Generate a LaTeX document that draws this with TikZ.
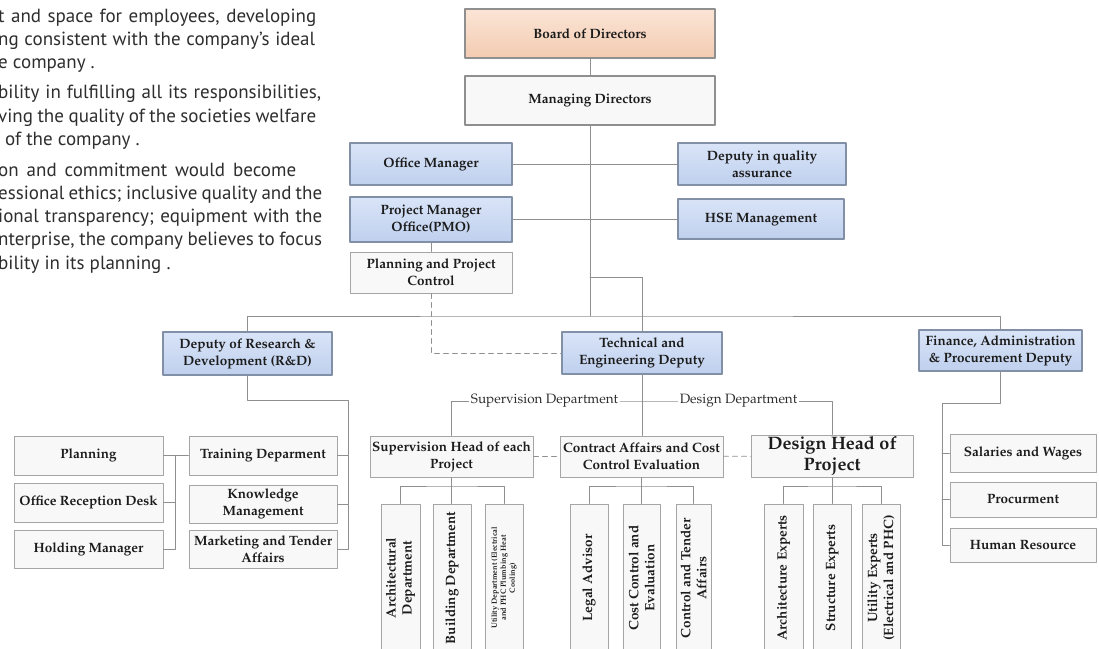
\documentclass[tikz,border=0pt]{standalone}
\usepackage[T1]{fontenc}
\usepackage{mathpazo}
\usepackage{xcolor}
\usepackage{tikz}
\usetikzlibrary{shadows}
\definecolor{dce6f7}{rgb}{0.851,0.894,0.969}
\definecolor{c6d4ee}{rgb}{0.749,0.816,0.933}
\definecolor{bordbl}{rgb}{0.510,0.565,0.655}
\definecolor{fbe5d6}{rgb}{0.984,0.898,0.839}
\definecolor{f3cbb1}{rgb}{0.953,0.796,0.694}
\definecolor{f7f8f7}{rgb}{0.969,0.973,0.969}
\definecolor{a5a5a5}{rgb}{0.647,0.647,0.647}
\definecolor{linegr}{rgb}{0.561,0.561,0.561}
\definecolor{textbk}{rgb}{0.110,0.110,0.110}
\definecolor{textgr}{rgb}{0.180,0.180,0.180}
\font\gillfont="PT Sans" at 19pt
\newcommand{\boxfont}{\fontsize{13.5}{17}\selectfont\bfseries}
\tikzstyle{every node}=[text=textbk]
\tikzstyle{box}=[draw=a5a5a5,line width=1pt,fill=f7f8f7,align=center,inner sep=1pt,font=\boxfont,drop shadow={shadow xshift=1pt,shadow yshift=-1pt,opacity=0.25}]
\tikzstyle{bluebox}=[box,draw=bordbl,line width=1.8pt,top color=dce6f7,bottom color=c6d4ee]
\tikzstyle{boardbox}=[box,draw=linegr,line width=1.6pt,top color=fbe5d6,bottom color=f3cbb1]
\tikzstyle{vbox}=[box,rotate=90,inner sep=0pt,minimum width=148,font=\fontsize{13.5}{16}\selectfont\bfseries]
\tikzstyle{conn}=[draw=linegr,line width=0.9pt]
\tikzstyle{dconn}=[conn,dash pattern=on 5pt off 4pt]
\tikzstyle{lbl}=[fill=white,inner sep=1.5pt,font=\fontsize{13.5}{16}\selectfont,text=textgr]
\tikzstyle{para}=[anchor=base west,inner sep=0pt,font=\gillfont,text=textgr]

\begin{document}
\begin{tikzpicture}[line cap=round,line join=round,x=1pt,y=-1pt]
    \useasboundingbox (0,0) rectangle (1099,648);
    \clip (0,0) rectangle (1099,648);
    \fill[white] (0,0) rectangle (1099,648);
    \node[para] (t1) at (-2,22) {\makebox[318pt][s]{t and space for employees, developing}};
    \node[para] (t2) at (-2,45) {\makebox[317pt][s]{ng consistent with the company’s ideal}};
    \node[para] (t3) at (-2,68) {e company .};
    \node[para] (t4) at (-2,98) {\makebox[323pt][s]{bility in fulfilling all its responsibilities,}};
    \node[para] (t5) at (-2,122) {\makebox[318pt][s]{ving the quality of the societies welfare}};
    \node[para] (t6) at (5,145) {of the company .};
    \node[para] (t7) at (-2,176) {\makebox[298pt][s]{on and commitment would become}};
    \node[para] (t8) at (-2,199) {\makebox[324pt][s]{essional ethics; inclusive quality and the}};
    \node[para] (t9) at (-2,222) {\makebox[324pt][s]{ional transparency; equipment with the}};
    \node[para] (t10) at (-2,245) {\makebox[324pt][s]{nterprise, the company believes to focus}};
    \node[para] (t11) at (-2,269) {bility in its planning .};

    \node[boardbox,minimum width=250,minimum height=49] (board) at (590,33.5) {Board of Directors};
    \node[box,draw=linegr,line width=1.6pt,minimum width=250,minimum height=49] (md) at (590,100.5) {Managing Directors};
    \node[bluebox,minimum width=162,minimum height=42] (office) at (431,164) {Office Manager};
    \node[bluebox,minimum width=168,minimum height=42] (quality) at (762,164) {Deputy in quality\\assurance};
    \node[bluebox,minimum width=162,minimum height=45] (pmo) at (431,219.5) {Project Manager\\Office(PMO)};
    \node[bluebox,minimum width=166,minimum height=40] (hse) at (761,219) {HSE Management};
    \node[box,minimum width=162,minimum height=41] (ppc) at (431,272.5) {Planning and Project\\Control};
    \node[bluebox,minimum width=169,minimum height=43] (rd) at (247.5,353.5) {Deputy of Research \&\\Development (R\&D)};
    \node[bluebox,minimum width=160,minimum height=42] (tech) at (642,353) {Technical and\\Engineering Deputy};
    \node[bluebox,minimum width=163,minimum height=41] (fin) at (1000.5,350.5) {Finance, Administration\\\& Procurement Deputy};

    \node[box,minimum width=149,minimum height=39] (planning) at (88.5,455.5) {Planning};
    \node[box,minimum width=149,minimum height=39] (reception) at (88.5,502.5) {Office Reception Desk};
    \node[box,minimum width=149,minimum height=38] (holding) at (88.5,549) {Holding Manager};
    \node[box,minimum width=148,minimum height=39] (training) at (263,455.5) {Training Deparment};
    \node[box,minimum width=148,minimum height=38] (knowledge) at (263,504) {Knowledge\\Management};
    \node[box,minimum width=148,minimum height=38] (marketing) at (263,549) {Marketing and Tender\\Affairs};

    \node[box,minimum width=163,minimum height=41] (suphead) at (451.5,456.5) {Supervision Head of each\\Project};
    \node[box,minimum width=163,minimum height=41] (contract) at (641.5,456.5) {Contract Affairs and Cost\\Control Evaluation};
    \node[box,minimum width=162,minimum height=42,font=\fontsize{18}{21}\selectfont\bfseries] (deshead) at (832,456) {Design Head of\\Project};

    \node[box,minimum width=146,minimum height=38] (salaries) at (1023,453) {Salaries and Wages};
    \node[box,minimum width=146,minimum height=35] (procure) at (1023,499.5) {Procurment};
    \node[box,minimum width=146,minimum height=34] (hr) at (1023,545) {Human Resource};

    \node[vbox,minimum height=39] (arch) at (400.5,578) {Architectural\\Department};
    \node[vbox,minimum height=38] (building) at (452,578) {Building Department};
    \node[vbox,minimum height=38,font=\fontsize{7.5}{9}\selectfont\bfseries] (utility) at (504,578) {Utility Department (Electrical\\and PHC Plumbing Heat\\Cooling)};
    \node[vbox,minimum height=38] (legal) at (589,578) {Legal Advisor};
    \node[vbox,minimum height=37] (costctrl) at (641.5,578) {Cost Control and\\Evaluation};
    \node[vbox,minimum height=35] (ctrltender) at (693.5,578) {Control and Tender\\Affairs};
    \node[vbox,minimum height=39] (archexp) at (783.5,578) {Architecture Experts};
    \node[vbox,minimum height=38] (structexp) at (832,578) {Structure Experts};
    \node[vbox,minimum height=38] (utilexp) at (881,578) {Utility Experts\\(Electrical and PHC)};

    \coordinate (bus) at (590,316);
    \coordinate (tknee) at (590,277);
    \coordinate (tsplit) at (642,401);
    \coordinate (sknee) at (451.5,486);
    \coordinate (cknee) at (641.5,486);
    \coordinate (dknee) at (832,486);
    \coordinate (rdknee) at (348,400);
    \coordinate (lknee) at (175,455.5);
    \coordinate (fknee) at (942,403);

    \draw[conn] (board) -- (md);
    \draw[conn] (md) -- (bus);
    \draw[conn] (office) -- (quality);
    \draw[conn] (pmo.east) -- (pmo.east -| hse.west);
    \draw[conn] (pmo) -- (ppc);
    \draw[conn] (tknee) -| (tech.north);
    \draw[conn] (rd.north) |- (bus) -| (fin.north);
    \draw[dconn] (ppc.south) |- (tech.west);

    \draw[conn] (tech.south) -- (tech.south |- contract.north);
    \draw[conn] (suphead.north) |- (tsplit) -| (deshead.north);
    \draw[dconn] (suphead) -- (contract);
    \draw[dconn] (contract) -- (deshead);
    \node[lbl] (supdept) at (544.5,401) {Supervision Department};
    \node[lbl] (desdept) at (738.5,401) {Design Department};

    \draw[conn] (suphead.south) -- (suphead.south |- building.east);
    \draw[conn] (arch.east) |- (sknee) -| (utility.east);
    \draw[conn] (contract.south) -- (contract.south |- costctrl.east);
    \draw[conn] (legal.east) |- (cknee) -| (ctrltender.east);
    \draw[conn] (deshead.south) -- (deshead.south |- structexp.east);
    \draw[conn] (archexp.east) |- (dknee) -| (utilexp.east);

    \draw[conn] (rd.south) |- (rdknee) |- (marketing.east);
    \draw[conn] (training.east) -- (training.east -| rdknee);
    \draw[conn] (knowledge.east) -- (knowledge.east -| rdknee);
    \draw[conn] (training.west) -- (planning.east);
    \draw[conn] (lknee) |- (holding.east);
    \draw[conn] (reception.east) -- (reception.east -| lknee);

    \draw[conn] (fin.south) |- (fknee) |- (hr.west);
    \draw[conn] (salaries.west) -- (salaries.west -| fknee);
    \draw[conn] (procure.west) -- (procure.west -| fknee);
\end{tikzpicture}
\end{document}
